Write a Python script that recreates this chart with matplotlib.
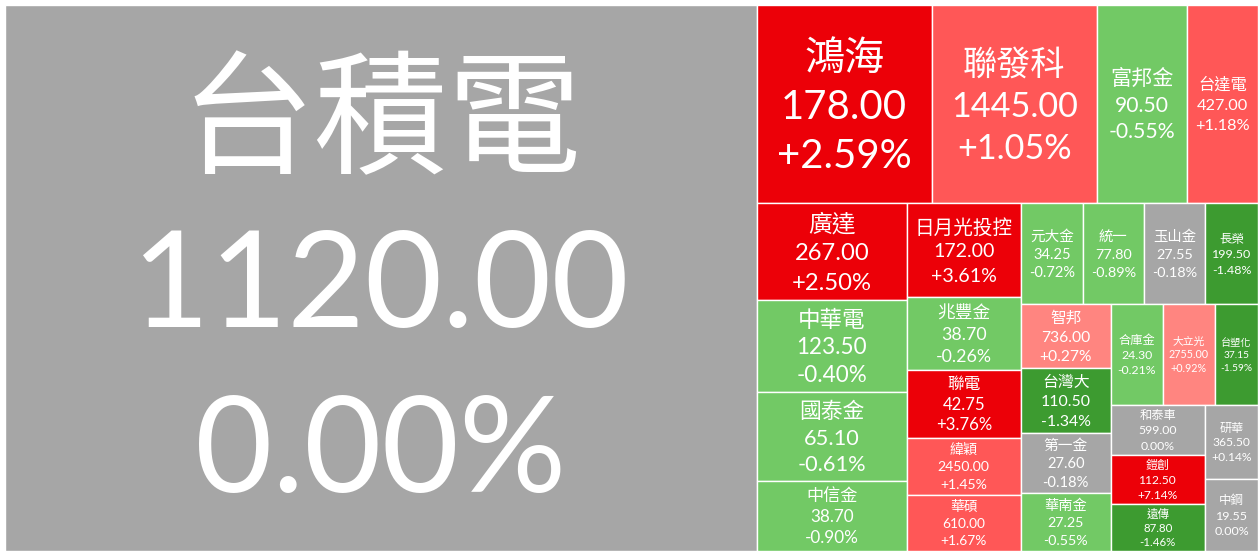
import matplotlib
matplotlib.use("Agg")
import matplotlib.pyplot as plt
from matplotlib.patches import Rectangle

# ---------------- data ----------------
names = ["台積電", "鴻海", "聯發科", "富邦金", "台達電", "廣達", "中華電", "國泰金", "中信金",
         "日月光投控", "兆豐金", "聯電", "緯穎", "華碩", "元大金", "統一", "玉山金", "長榮",
         "智邦", "台灣大", "第一金", "華南金", "合庫金", "大立光", "台塑化",
         "和泰車", "鎧創", "遠傳", "研華", "中鋼"]
prices = [1120.00, 178.00, 1445.00, 90.50, 427.00, 267.00, 123.50, 65.10, 38.70,
          172.00, 38.70, 42.75, 2450.00, 610.00, 34.25, 77.80, 27.55, 199.50,
          736.00, 110.50, 27.60, 27.25, 24.30, 2755.00, 37.15,
          599.00, 112.50, 87.80, 365.50, 19.55]
changes = [0.00, 2.59, 1.05, -0.55, 1.18, 2.50, -0.40, -0.61, -0.90,
           3.61, -0.26, 3.76, 1.45, 1.67, -0.72, -0.89, -0.18, -1.48,
           0.27, -1.34, -0.18, -0.55, -0.21, 0.92, -1.59,
           0.00, 7.14, -1.46, 0.14, 0.00]
# relative tile weights (market value share, estimated from tile areas)
weights = [410.0, 34.65, 32.67, 17.82, 14.06, 14.55, 13.80, 13.35, 10.50,
           10.72, 8.21, 7.75, 6.50, 6.38, 6.26, 6.16, 6.16, 5.35,
           5.76, 5.85, 5.40, 5.22, 5.25, 5.25, 4.34,
           4.70, 4.61, 4.42, 3.92, 3.82]

# ---------------- styling ----------------
W_PX, H_PX, DPI = 1258, 556, 100
FONT = ["Lato", "Noto Sans CJK TC", "DejaVu Sans"]
PHI = (1 + 5 ** 0.5) / 2
LAYOUT_W, LAYOUT_H = 2.44, 1.0      # treemap layout box (stretched onto the axes)

GRAY = "#a6a6a6"
RED_DEEP, RED_MID, RED_LIGHT = "#ec0008", "#ff5757", "#ff8580"
GREEN_LIGHT, GREEN_DEEP = "#72c965", "#3d9b30"


def tile_color(c):
    if abs(c) < 0.2:
        return GRAY
    if c > 0:
        return RED_LIGHT if c < 1 else (RED_MID if c < 2 else RED_DEEP)
    return GREEN_LIGHT if c > -1 else GREEN_DEEP


def fmt_change(c):
    if abs(c) < 0.005:
        return "0.00%"
    return f"{c:+.2f}%"


def squarify(values, x0, y0, x1, y1, ratio):
    """d3-hierarchy style squarified tiling (input order kept)."""
    n = len(values)
    vals = list(values)
    value = float(sum(vals))
    rects = [None] * n
    i0 = i1 = 0
    while i0 < n:
        dx, dy = x1 - x0, y1 - y0
        sumv = vals[i1]
        i1 += 1
        minv = maxv = sumv
        alpha = max(dy / dx, dx / dy) / (value * ratio)
        beta = sumv * sumv * alpha
        minratio = max(maxv / beta, beta / minv)
        while i1 < n:
            nv = vals[i1]
            sumv += nv
            minv = min(minv, nv)
            maxv = max(maxv, nv)
            beta = sumv * sumv * alpha
            newratio = max(maxv / beta, beta / minv)
            if newratio > minratio:
                sumv -= nv
                break
            minratio = newratio
            i1 += 1
        row = range(i0, i1)
        if dx < dy:   # horizontal strip on top
            ny = y0 + dy * sumv / value
            xx = x0
            for j in row:
                w = (x1 - x0) * vals[j] / sumv
                rects[j] = (xx, y0, xx + w, ny)
                xx += w
            y0 = ny
        else:         # vertical strip on the left
            nx = x0 + dx * sumv / value
            yy = y0
            for j in row:
                h = (y1 - y0) * vals[j] / sumv
                rects[j] = (x0, yy, nx, yy + h)
                yy += h
            x0 = nx
        value -= sumv
        i0 = i1
    return rects


fig = plt.figure(figsize=(W_PX / DPI, H_PX / DPI), dpi=DPI, facecolor="white")
ax = fig.add_axes([5 / W_PX, 5 / H_PX, 1253 / W_PX, 546 / H_PX])
ax.set_xlim(0, LAYOUT_W)
ax.set_ylim(LAYOUT_H, 0)
ax.axis("off")

rects = squarify(weights, 0, 0, LAYOUT_W, LAYOUT_H, PHI)
renderer = fig.canvas.get_renderer()


def em_width(s):
    t = fig.text(0, 0, s, fontsize=100, family=FONT)
    bb = t.get_window_extent(renderer)
    t.remove()
    return bb.width / (100 * DPI / 72)


for name, price, chg, (x0, y0, x1, y1) in zip(names, prices, changes, rects):
    ax.add_patch(Rectangle((x0, y0), x1 - x0, y1 - y0, facecolor=tile_color(chg),
                           edgecolor="white", linewidth=1.0))
    (px0, py0), (px1, py1) = ax.transData.transform([(x0, y0), (x1, y1)])
    w_px, h_px = abs(px1 - px0), abs(py1 - py0)
    lines = [name, f"{price:.2f}", fmt_change(chg)]
    em_name = em_width(lines[0])
    em_num = max(em_width(s) for s in lines[1:])
    f_px = min(0.245 * h_px, 0.235 * w_px, 0.86 * w_px / em_name, 0.77 * w_px / em_num)
    f_pt = f_px * 72 / DPI
    cx, cy = (x0 + x1) / 2, (y0 + y1) / 2
    for i, s in enumerate(lines):
        off_px = 0.01 * f_px + 0.36 * f_px + (i - 1) * 1.23 * f_px
        ax.annotate(s, xy=(cx, cy), xytext=(0, -off_px * 72 / DPI),
                    textcoords="offset points", ha="center", va="baseline",
                    fontsize=f_pt, color="white", family=FONT)

fig.savefig("out.png", dpi=DPI, facecolor="white")
